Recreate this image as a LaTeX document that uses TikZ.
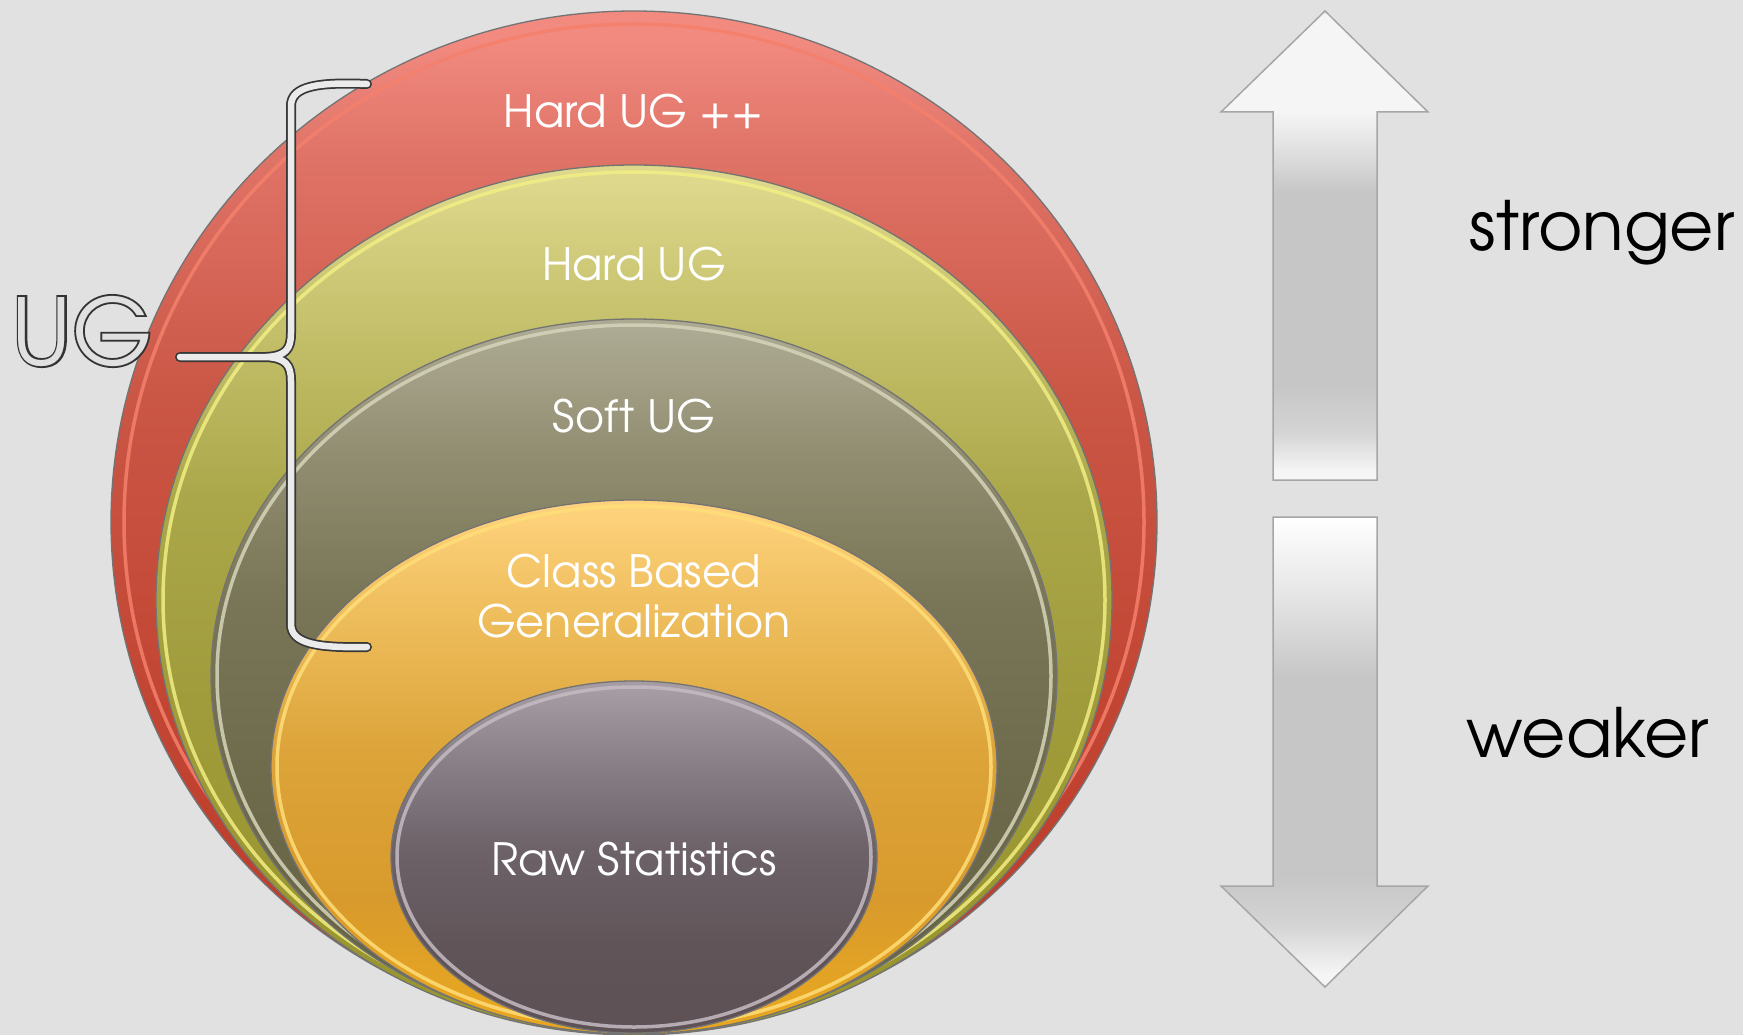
\documentclass[tikz,border=0pt]{standalone}
\usepackage{fontspec}
\setmainfont{TeX Gyre Adventor}
% thickened copy of the face, used as the dark rim of the outlined lettering
\newfontfamily\rimfont{TeX Gyre Adventor}[FakeBold=4]

% palette
\definecolor{bgcol}{HTML}{E1E1E1}
\definecolor{r1}{HTML}{BE3A28}\definecolor{r2}{HTML}{C24533}\definecolor{r3}{HTML}{CA5645}
\definecolor{r4}{HTML}{E07468}\definecolor{r5}{HTML}{F28A80}
\definecolor{y1}{HTML}{9A962F}\definecolor{y2}{HTML}{A09C3C}\definecolor{y3}{HTML}{AAA74A}
\definecolor{y4}{HTML}{C8C470}\definecolor{y5}{HTML}{DDD88C}
\definecolor{o1}{HTML}{666444}\definecolor{o2}{HTML}{6C6A4A}\definecolor{o3}{HTML}{787656}
\definecolor{o4}{HTML}{928E72}\definecolor{o5}{HTML}{ADAA93}
\definecolor{g1}{HTML}{E6A622}\definecolor{g2}{HTML}{D89A2C}\definecolor{g3}{HTML}{DCA43A}
\definecolor{g4}{HTML}{F0C060}\definecolor{g5}{HTML}{FED27C}
\definecolor{p1}{HTML}{5E5257}\definecolor{p2}{HTML}{605458}\definecolor{p3}{HTML}{6C6268}
\definecolor{p4}{HTML}{8A8088}\definecolor{p5}{HTML}{A59DA3}
\definecolor{a1}{HTML}{F5F5F5}\definecolor{a2}{HTML}{E4E4E4}\definecolor{a3}{HTML}{C6C6C6}
\definecolor{a4}{HTML}{D4D4D4}
\definecolor{rimred}{HTML}{F4806C}\definecolor{rimyel}{HTML}{F2EE84}
\definecolor{rimoli}{HTML}{D6D4BA}\definecolor{rimora}{HTML}{FFDE78}
\definecolor{rimpur}{HTML}{C4BCC2}

% vertical gradients: the shaded path spans 25bp (bottom) .. 75bp (top)
\pgfdeclareverticalshading{redgrad}{100bp}{color(0bp)=(r1); color(26.6bp)=(r1);
  color(41bp)=(r2); color(56bp)=(r3); color(68.2bp)=(r4); color(73.6bp)=(r5); color(100bp)=(r5)}
\pgfdeclareverticalshading{yelgrad}{100bp}{color(0bp)=(y1); color(32.7bp)=(y1);
  color(44.2bp)=(y2); color(55.7bp)=(y3); color(67.2bp)=(y4); color(74.1bp)=(y5); color(100bp)=(y5)}
\pgfdeclareverticalshading{oligrad}{100bp}{color(0bp)=(o1); color(30bp)=(o1);
  color(41.4bp)=(o2); color(55.3bp)=(o3); color(65.8bp)=(o4); color(74.2bp)=(o5); color(100bp)=(o5)}
\pgfdeclareverticalshading{oragrad}{100bp}{color(0bp)=(g1); color(28.2bp)=(g1);
  color(37.5bp)=(g2); color(51.6bp)=(g3); color(65.6bp)=(g4); color(74.1bp)=(g5); color(100bp)=(g5)}
\pgfdeclareverticalshading{purgrad}{100bp}{color(0bp)=(p1); color(30bp)=(p1);
  color(36.9bp)=(p2); color(51.1bp)=(p3); color(63.8bp)=(p4); color(73.7bp)=(p5); color(100bp)=(p5)}
\pgfdeclareverticalshading{upgrad}{100bp}{color(0bp)=(a1); color(26bp)=(a1);
  color(30.1bp)=(a4); color(35.2bp)=(a3); color(55.7bp)=(a3); color(60.9bp)=(a2); color(64.3bp)=(a1); color(100bp)=(a1)}
\pgfdeclareverticalshading{downgrad}{100bp}{color(0bp)=(a1); color(26.4bp)=(a1);
  color(31.6bp)=(a4); color(36.9bp)=(a3); color(57.9bp)=(a3); color(66.3bp)=(a2); color(75bp)=(white); color(100bp)=(white)}

% one bevelled disc: centre y, x radius, y radius, shading, rim colour, rim inset
\newcommand\ringlayer[6]{%
  \shade[shading=#4] (634,#1) ellipse [x radius=#2, y radius=#3];
  \draw[#5, line width=3.5, opacity=.85] (634,#1) ellipse [x radius=#2-#6, y radius=#3-#6];
  \draw[black!55, line width=1.3] (634,#1) ellipse [x radius=#2, y radius=#3];
}

\tikzset{
  lab/.style={text=white, anchor=base, inner sep=0pt, font=\fontsize{44.5}{50}\selectfont},
  side/.style={text=black, anchor=base, inner sep=0pt, font=\fontsize{68}{72}\selectfont},
  bigarrow/.style={draw=black!35, line width=1.5, line join=miter},
  braceouter/.style={draw=black!78, line width=10, line cap=round, line join=round},
  braceinner/.style={draw=white!92!black, line width=6.5, line cap=round, line join=round},
  ugtext/.style={anchor=base, inner sep=0pt},
}

\begin{document}
\begin{tikzpicture}[x=1pt,y=-1pt]
\useasboundingbox (0,0) rectangle (1743,1035);
\fill[bgcol] (0,0) rectangle (1743,1035);

% nested discs, outermost first
\ringlayer{522}{523}{511}{redgrad}{rimred}{13}
\ringlayer{600}{478}{435}{yelgrad}{rimyel}{7}
\ringlayer{676}{423}{357}{oligrad}{rimoli}{6}
\ringlayer{767}{363}{267}{oragrad}{rimora}{6}
\ringlayer{857}{243}{176}{purgrad}{rimpur}{6}

% disc labels
\node[lab] (hardpp) at (634,128) {Hard UG ++};
\node[lab] (hard)   at (634,280) {Hard UG};
\node[lab] (soft)   at (634,432) {Soft UG};
\node[lab] (class)  at (634,587) {Class Based};
\node[lab] (gener)  at (634,637) {Generalization};
\node[lab] (raw)    at (634,875) {Raw Statistics};

% curly brace grouping the UG levels
\def\bracepath{(367,84) .. controls (318,82) and (291,86) .. (291,106) -- (291,333)
  .. controls (291,349) and (286,356) .. (266,357) -- (180,357)
  (266,357) .. controls (286,358) and (291,365) .. (291,381) -- (291,624)
  .. controls (291,644) and (318,648) .. (367,647)}
\draw[braceouter] \bracepath;
\draw[braceinner] \bracepath;

% outlined "UG": dark thickened letters under light ones
\node[ugtext, text=black!80, font=\rimfont\fontsize{92}{96}\selectfont] (ugrim) at (82,365) {UG};
\node[ugtext, text=black!12, font=\fontsize{92}{96}\selectfont] (ug) at (82,365) {UG};

% strength arrows
\shade[shading=upgrad, bigarrow] (1325,11) -- (1428,112) -- (1377,112) -- (1377,480)
  -- (1273,480) -- (1273,112) -- (1221,112) -- cycle;
\shade[shading=downgrad, bigarrow] (1273,517) -- (1377,517) -- (1377,886) -- (1428,886)
  -- (1325,987) -- (1221,886) -- (1273,886) -- cycle;

\node[side] (stronger) at (1602,251) {stronger};
\node[side] (weaker)   at (1588,757) {weaker};
\end{tikzpicture}
\end{document}
